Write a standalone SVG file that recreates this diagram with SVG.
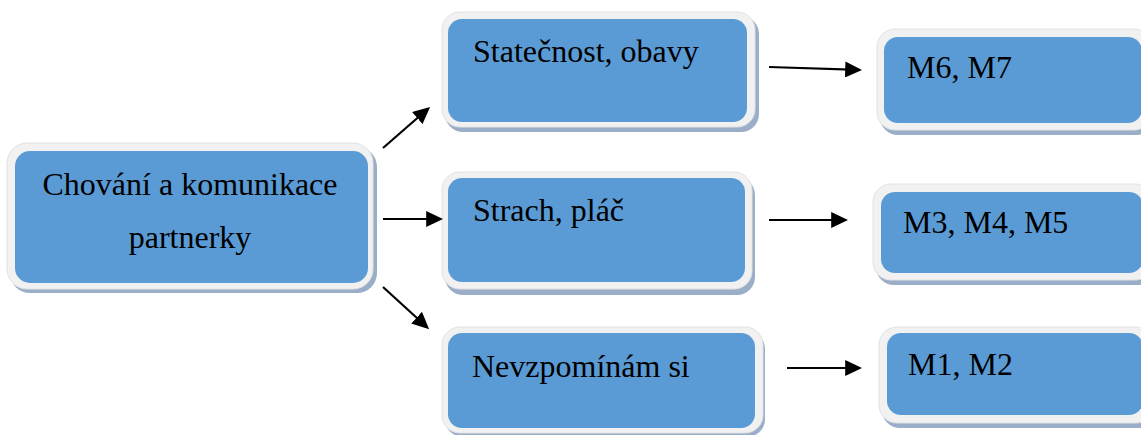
<svg xmlns="http://www.w3.org/2000/svg" width="1141" height="435" viewBox="0 0 1141 435">
<style>
.sh{fill:#9aaec8}
.lt{fill:#f1f1f1;stroke:#e2e2e2;stroke-width:1}
.bl{fill:#5b9bd5}
.tx{font-family:"Liberation Serif","Times New Roman",serif;font-size:32px;fill:#000}
.cn{stroke:#000;stroke-width:2.2;fill:none;marker-end:url(#ah)}
</style>
<defs>
<marker id="ah" markerUnits="userSpaceOnUse" markerWidth="17" markerHeight="16" viewBox="0 0 16 15" refX="13" refY="7.5" orient="auto">
<path d="M0,0 L16,7.5 L0,15 z" fill="#000"/>
</marker>
</defs>
<rect width="1141" height="435" fill="#fff"/>
<g id="n0">
<rect class="sh" x="10" y="147" width="367" height="146" rx="20"/>
<rect class="lt" x="7" y="143" width="366" height="146" rx="20"/>
<rect class="bl" x="15" y="151" width="353" height="132" rx="15"/>
<text class="tx" x="190" y="195" text-anchor="middle">Chování a komunikace</text>
<text class="tx" x="190" y="248" text-anchor="middle">partnerky</text>
</g>
<g id="n1">
<rect class="sh" x="445" y="16" width="314" height="116" rx="18"/>
<rect class="lt" x="442" y="12" width="313" height="115" rx="18"/>
<rect class="bl" x="448" y="19" width="299" height="103" rx="14"/>
<text class="tx" x="473" y="62">Statečnost, obavy</text>
</g>
<g id="n2">
<rect class="sh" x="445" y="177" width="310" height="118" rx="18"/>
<rect class="lt" x="442" y="172" width="310" height="117" rx="18"/>
<rect class="bl" x="448" y="178" width="297" height="104" rx="14"/>
<text class="tx" x="473" y="221">Strach, pláč</text>
</g>
<g id="n3">
<rect class="sh" x="445" y="331" width="320" height="106" rx="18"/>
<rect class="lt" x="442" y="327" width="321" height="106" rx="18"/>
<rect class="bl" x="448" y="333" width="307" height="95" rx="14"/>
<text class="tx" x="472" y="377">Nevzpomínám si</text>
</g>
<g id="n4">
<rect class="sh" x="880" y="34" width="275" height="101" rx="18"/>
<rect class="lt" x="877" y="29" width="275" height="101" rx="18"/>
<rect class="bl" x="884" y="37" width="258" height="86" rx="14"/>
<text class="tx" x="907" y="78">M6, M7</text>
</g>
<g id="n5">
<rect class="sh" x="876" y="189" width="280" height="96" rx="18"/>
<rect class="lt" x="873" y="184" width="280" height="96" rx="18"/>
<rect class="bl" x="881" y="192" width="262" height="81" rx="14"/>
<text class="tx" x="903" y="233">M3, M4, M5</text>
</g>
<g id="n6">
<rect class="sh" x="882" y="332" width="275" height="96" rx="18"/>
<rect class="lt" x="879" y="327" width="275" height="96" rx="18"/>
<rect class="bl" x="887" y="333" width="256" height="82" rx="14"/>
<text class="tx" x="908" y="375">M1, M2</text>
</g>
<g id="connectors">
<line class="cn" x1="383" y1="148" x2="427.7" y2="109"/>
<line class="cn" x1="383" y1="219" x2="440" y2="219"/>
<line class="cn" x1="383" y1="287" x2="426.8" y2="327"/>
<line class="cn" x1="769" y1="67" x2="859" y2="69.9"/>
<line class="cn" x1="769" y1="220" x2="845" y2="220"/>
<line class="cn" x1="787" y1="368" x2="859" y2="368"/>
</g>
</svg>
